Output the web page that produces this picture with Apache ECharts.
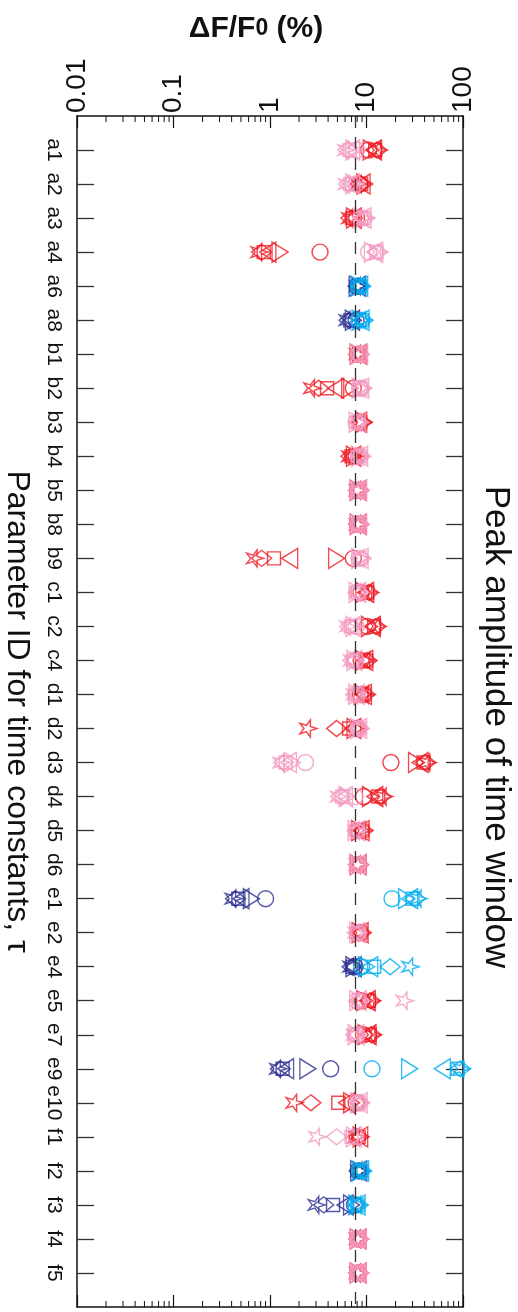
<!DOCTYPE html>
<html><head><meta charset="utf-8">
<script src="https://cdn.jsdelivr.net/npm/echarts@6/dist/echarts.min.js"></script>
<style>html,body{margin:0;padding:0;background:#fff}#c{width:518px;height:1312px}</style>
</head><body><div id="c"></div>
<script>
// ---- data ----
const categories = ['a1','a2','a3','a4','a6','a8','b1','b2','b3','b4','b5','b8','b9','c1','c2','c4','d1','d2','d3','d4','d5','d6','e1','e2','e4','e5','e7','e9','e10','f1','f2','f3','f4','f5'];
const valueTickLabels = ['0.01','0.1','1','10','100'];
const minorTicks = [0.02,0.03,0.04,0.05,0.06,0.07,0.08,0.09,0.2,0.3,0.4,0.5,0.6,0.7,0.8,0.9,2,3,4,5,6,7,8,9,20,30,40,50,60,70,80,90];
const referenceLevel = 7.7;
// each row: [circle, triangle-right, triangle-left, square, diamond, star]
const redValues = [
 [10.5,11.2,11.8,12.3,12.8,13.3], // a1
 [8.5,9.6,9.0,8.8,8.6,8.4],       // a2
 [7.9,7.5,7.3,7.1,6.9,6.8],       // a3
 [3.3,1.27,0.95,0.86,0.82,0.78],  // a4
 null, null,                       // a6 a8
 [8.1,8.2,8.3,8.4,8.3,8.2],       // b1
 [7.3,6.7,4.8,3.9,3.2,2.75],      // b2
 [8.5,9.5,8.3,8.6,8.8,9.0],       // b3
 [7.8,7.5,7.2,7.0,6.9,6.8],       // b4
 [8.1,8.2,8.2,8.3,8.3,8.2],       // b5
 [8.1,8.2,8.2,8.3,8.3,8.2],       // b8
 [7.3,4.9,1.6,1.1,0.82,0.70],     // b9
 [8.8,9.4,9.8,10.2,10.5,10.8],    // c1
 [10.2,10.8,11.5,12.0,12.5,13.0], // c2
 [8.8,9.3,9.6,9.9,10.1,10.3],     // c4
 [8.6,9.0,9.3,9.5,9.7,9.9],       // d1
 [7.9,7.6,7.2,6.6,4.9,2.5],       // d2
 [17.9,33,36,39,41,43],           // d3
 [9.3,11.0,12.2,13.2,14.2,15.2],  // d4
 [8.2,8.5,8.8,9.0,9.2,9.3],       // d5
 [8.1,8.2,8.2,8.3,8.3,8.2],       // d6
 null,                             // e1
 [8.5,8.6,8.6,8.7,8.8,8.8],       // e2
 null,                             // e4
 [9.0,9.6,10.2,10.6,11.0,11.3],   // e5
 [9.3,9.9,10.4,10.8,11.2,11.6],   // e7
 null,                             // e9
 [7.8,7.0,6.2,5.1,2.65,1.8],      // e10
 [8.0,8.8,8.5,8.3,8.2,8.0],       // f1
 null, null,                       // f2 f3
 [8.1,8.2,8.2,8.3,8.3,8.2],       // f4
 [8.1,8.2,8.2,8.3,8.3,8.2]        // f5
];
const pinkValues = [
 [7.9,7.4,7.0,6.7,6.4,6.2],       // a1
 [7.8,7.4,7.0,6.8,6.5,6.3],       // a2
 [8.7,9.0,9.2,9.4,9.6,9.8],       // a3
 [10.5,11.5,12.2,12.6,13.0,13.4], // a4
 null, null,                       // a6 a8
 [8.4,8.3,8.5,8.6,8.4,8.5],       // b1
 [8.5,8.6,8.7,8.8,8.9,9.0],       // b2
 [7.8,8.0,8.1,8.2,8.3,8.4],       // b3
 [8.2,8.4,8.5,8.6,8.7,8.8],       // b4
 [8.2,8.2,8.3,8.3,8.4,8.4],       // b5
 [8.2,8.2,8.3,8.3,8.4,8.4],       // b8
 [8.4,8.5,8.6,8.7,8.8,8.9],       // b9
 [8.0,8.0,8.1,8.1,8.2,8.2],       // c1
 [7.8,7.4,7.1,6.9,6.7,6.5],       // c2
 [7.8,7.6,7.4,7.3,7.2,7.1],       // c4
 [8.0,7.9,7.8,7.7,7.7,7.6],       // d1
 [8.2,8.3,8.3,8.4,8.4,8.5],       // d2
 [2.33,1.7,1.55,1.45,1.38,1.32],  // d3
 [7.6,6.3,5.9,5.6,5.4,5.2],       // d4
 [7.8,7.8,7.9,7.9,8.0,8.0],       // d5
 [8.0,8.1,8.1,8.2,8.2,8.3],       // d6
 null,                             // e1
 [8.2,8.1,8.1,8.0,8.0,7.9],       // e2
 null,                             // e4
 [8.0,8.1,8.2,8.3,8.4,25],        // e5
 [7.9,7.8,7.8,7.7,7.7,7.6],       // e7
 null,                             // e9
 [8.2,8.3,8.4,8.4,8.5,8.5],       // e10
 [7.8,7.5,7.3,7.0,4.9,3.1],       // f1
 null, null,                       // f2 f3
 [8.1,8.2,8.2,8.3,8.3,8.4],       // f4
 [8.1,8.2,8.2,8.3,8.3,8.4]        // f5
];
const navyValues = [
 null,null,null,null,
 [8.0,8.0,8.1,8.1,8.2,8.2],       // a6
 [7.8,7.3,7.0,6.8,6.6,6.4],       // a8
 null,null,null,null,null,null,null,null,null,null,null,null,null,null,null,null,
 [0.90,0.64,0.50,0.47,0.44,0.42], // e1
 null,
 [7.6,7.4,7.3,7.2,7.1,7.0],       // e4
 null,null,
 [4.25,2.47,1.45,1.35,1.28,1.22], // e9
 null,null,
 [8.2,8.3,8.3,8.4,8.4,8.5],       // f2
 [7.5,7.0,6.0,4.5,3.6,3.05],      // f3
 null,null
];
const blueValues = [
 null,null,null,null,
 [8.3,8.4,8.5,8.6,8.7,8.8],       // a6
 [8.4,8.6,8.8,9.0,9.2,9.3],       // a8
 null,null,null,null,null,null,null,null,null,null,null,null,null,null,null,null,
 [18.4,26,28,30,32,35],           // e1
 null,
 [8.9,10.0,10.8,12.0,17.6,28.6],  // e4
 null,null,
 [11.4,28,61,88,94,97],           // e9
 null,null,
 [8.5,8.6,8.7,8.8,8.9,9.0],       // f2
 [7.7,7.9,8.0,8.1,8.2,8.3],       // f3
 null,null
];

// ---- styling ----
const FONT = '"Liberation Sans", Arial, Helvetica, sans-serif';
const colorOf = {navy:'#2e3192', blue:'#00aeef', red:'#ed1c24', pink:'#f49ac1'};
const markers = [
 {symbol:'circle', size:16},
 {symbol:'path://M0,0 L16,10 L0,20 Z', size:[16,20]},
 {symbol:'path://M16,0 L0,10 L16,20 Z', size:[16,20]},
 {symbol:'rect', size:13},
 {symbol:'diamond', size:[20,16]},
 {symbol:'path://M100,50 L65.37,61.17 L65.45,97.55 L44.13,68.07 L9.55,79.39 L31,50 L9.55,20.61 L44.13,31.93 L65.45,2.45 L65.37,38.83 Z', size:17}
];
const groups = [[navyValues,'navy'],[blueValues,'blue'],[redValues,'red'],[pinkValues,'pink']];
const yData = [''].concat(categories, ['']);

const series = [];
series.push({
  type:'scatter', data:[], z:1, silent:true,
  markLine:{silent:true, symbol:'none', animation:false, label:{show:false},
    lineStyle:{type:[12,9], color:'#333', width:1.3},
    data:[{xAxis: referenceLevel}]}
});
series.push({
  type:'custom', z:1, silent:true, xAxisIndex:0, yAxisIndex:0, clip:false,
  data: minorTicks.map(v => [v, categories[0]]),
  encode:{x:0, y:1},
  renderItem(params, api){
    const x = api.coord([api.value(0), categories[0]])[0];
    const cs = params.coordSys;
    const st = {stroke:'#111', lineWidth:1};
    return {type:'group', children:[
      {type:'line', shape:{x1:x, y1:cs.y, x2:x, y2:cs.y+6}, style:st},
      {type:'line', shape:{x1:x, y1:cs.y+cs.height, x2:x, y2:cs.y+cs.height-6}, style:st}
    ]};
  }
});
groups.forEach(([rows, cname]) => {
  markers.forEach((mk, mi) => {
    const data = [];
    categories.forEach((c, i) => { if (rows[i]) data.push([rows[i][mi], c]); });
    series.push({
      type:'scatter', z:2, silent:true, clip:false,
      symbol: mk.symbol, symbolSize: mk.size,
      itemStyle:{color:'rgba(0,0,0,0)', borderColor: colorOf[cname], borderWidth:1.45},
      data
    });
  });
});

function tickLabel(v){
  const t = valueTickLabels.find(s => Math.abs(Math.log10(+s) - Math.log10(v)) < 1e-6);
  return t === undefined ? '' : t;
}

const chart = echarts.init(document.getElementById('c'), null, {renderer:'canvas'});
chart.setOption({
  animation:false,
  backgroundColor:'#fff',
  grid:{left:77, right:55, top:116, bottom:5, containLabel:false, outerBoundsMode:'none'},
  xAxis:[
    {type:'log', logBase:10, position:'top', min:0.01, max:100,
     name:'ΔF/F{sub|0} (%)', nameLocation:'middle', nameGap:72,
     nameTextStyle:{fontFamily:FONT, fontSize:30, fontWeight:'bold', color:'#111', padding:[0,28,0,0],
       rich:{sub:{fontFamily:FONT, fontSize:23, fontWeight:'bold', color:'#111'}}},
     axisLine:{show:true, lineStyle:{color:'#111', width:1.5}},
     axisTick:{show:true, inside:true, length:12, lineStyle:{color:'#111', width:1.2}},
     axisLabel:{show:true, rotate:-90, margin:3, fontFamily:FONT, fontSize:28, color:'#111', formatter:tickLabel, padding:[10,0,0,0]},
     splitLine:{show:false}, minorTick:{show:false}},
    {type:'log', logBase:10, position:'bottom', min:0.01, max:100,
     axisLine:{show:true, lineStyle:{color:'#111', width:1.5}},
     axisTick:{show:true, inside:true, length:12, lineStyle:{color:'#111', width:1.2}},
     axisLabel:{show:false}, splitLine:{show:false}}
  ],
  yAxis:[
    {type:'category', data:yData, inverse:true, boundaryGap:false, position:'left',
     name:'Parameter ID for time constants, τ', nameLocation:'middle', nameRotate:-90, nameGap:44,
     nameTextStyle:{fontFamily:FONT, fontSize:32, color:'#111'},
     axisLine:{show:true, lineStyle:{color:'#111', width:1.5}},
     axisTick:{show:true, inside:true, length:17, interval:(i, v) => v !== '', lineStyle:{color:'#333', width:1.3}},
     axisLabel:{show:true, rotate:-90, margin:13, interval:0, fontFamily:FONT, fontSize:21, color:'#111'},
     splitLine:{show:false}},
    {type:'category', data:yData, inverse:true, boundaryGap:false, position:'right',
     axisLine:{show:true, lineStyle:{color:'#111', width:1.5}},
     axisTick:{show:true, inside:true, length:17, interval:(i, v) => v !== '', lineStyle:{color:'#333', width:1.3}},
     axisLabel:{show:false}, splitLine:{show:false}}
  ],
  graphic:[{
    type:'text', x:496, y:727, rotation:-Math.PI/2, silent:true,
    style:{text:'Peak amplitude of time window', font:'35px ' + FONT, fill:'#111',
      align:'center', verticalAlign:'middle', textAlign:'center', textVerticalAlign:'middle'}
  }],
  series
});
</script>
</body></html>
